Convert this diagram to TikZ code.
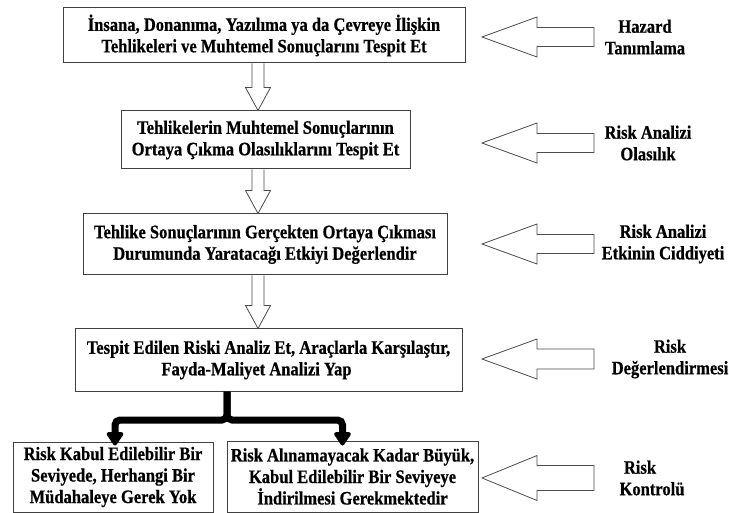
\documentclass[tikz,border=0pt]{standalone}
\usepackage{fontspec}
\setmainfont{Liberation Serif}
\newfontfamily\diagfont{Liberation Serif}[FakeStretch=0.87,FakeBold=0.6]
\usetikzlibrary{arrows.meta,calc}

% hollow block arrow pointing down: #1 = top point, #2 = tip point
\newcommand\blockdown[2]{%
  \draw[hollow] let \p1=#1, \p2=#2 in
    (\x1-6pt,\y1) -- (\x1-6pt,\y2+23pt) -- (\x1-12.5pt,\y2+23pt) --
    (\x2,\y2) -- (\x1+12.5pt,\y2+23pt) -- (\x1+6pt,\y2+23pt) --
    (\x1+6pt,\y1);}
% hollow block arrow pointing left: #1 = tail, #2 = tip, #3 = shaft half height, #4 = head half height
\newcommand\blockleft[4]{%
  \draw[hollow] let \p1=#1, \p2=#2 in
    (\x1,\y1+#3) -- (\x2+55pt,\y1+#3) -- (\x2+55pt,\y1+#4) --
    (\x2,\y2) -- (\x2+55pt,\y1-#4) -- (\x2+55pt,\y1-#3) --
    (\x1,\y1-#3) -- cycle;}

\begin{document}
\begin{tikzpicture}[x=1pt,y=-1pt,
  txt/.style={font=\diagfont\fontsize{19}{21.5}\selectfont\bfseries},
  stepbox/.style={txt, draw=black!75, line width=1pt, fill=white,
    inner sep=0pt, align=center},
  tag/.style={txt, align=center, inner sep=0pt},
  hollow/.style={draw=black!70, line width=0.8pt, fill=white, line join=miter},
  branch/.style={line width=7pt, rounded corners=5pt,
    -{Triangle[width=19pt,length=15pt,round]}}]
\useasboundingbox (0,0) rectangle (729,513);

% process steps
\node[stepbox, minimum width=402pt, minimum height=55pt] (b1) at (264,35.5)
  {İnsana, Donanıma, Yazılıma ya da Çevreye İlişkin\\Tehlikeleri ve Muhtemel Sonuçlarını Tespit Et};
\node[stepbox, minimum width=289pt, minimum height=58pt] (b2) at (265.5,140)
  {Tehlikelerin Muhtemel Sonuçlarının\\Ortaya Çıkma Olasılıklarını Tespit Et};
\node[stepbox, minimum width=364pt, minimum height=61pt] (b3) at (265,244.5)
  {Tehlike Sonuçlarının Gerçekten Ortaya Çıkması\\Durumunda Yaratacağı Etkiyi Değerlendir};
\node[stepbox, minimum width=387pt, minimum height=62pt] (b4) at (268.5,360)
  {Tespit Edilen Riski Analiz Et, Araçlarla Karşılaştır,\\Fayda-Maliyet Analizi Yap\hspace*{24pt}};
\node[stepbox, minimum width=200pt, minimum height=70pt] (b5) at (113,477)
  {Risk Kabul Edilebilir Bir\\Seviyede, Herhangi Bir\\Müdahaleye Gerek Yok};
\node[stepbox, minimum width=251pt, minimum height=71pt] (b6) at (352.5,476.5)
  {Risk Alınamayacak Kadar Büyük,\\Kabul Edilebilir Bir Seviyeye\\İndirilmesi Gerekmektedir};

% phase labels
\node[tag] (l1) at (645,37) {Hazard\\Tanımlama};
\node[tag] (l2) at (648,143) {Risk Analizi\\Olasılık};
\node[tag] (l3) at (663,244) {Risk Analizi\\Etkinin Ciddiyeti};
\node[tag] (l4) at (670,359) {Risk\\Değerlendirmesi};
\node[tag] (l5) at (652,478) {Risk\hspace*{24pt}\\Kontrolü};

% guide columns
\coordinate (ax) at (258,0);
\coordinate (tipx) at (482,0);
\coordinate (tailx) at (594,0);
\coordinate (split) at (227,420);

% flow between steps
\blockdown{(ax |- b1.south)}{(ax |- b2.north)}
\blockdown{(ax |- b2.south)}{(ax |- b3.north)}
\blockdown{(ax |- b3.south)}{(ax |- b4.north)}

% phase arrows
\blockleft{(tailx |- l1)}{(tipx |- l1)}{9.5pt}{20pt}
\blockleft{(tailx |- l2)}{(tipx |- l2)}{9.5pt}{20pt}
\blockleft{(tailx |- l3)}{(tipx |- l3)}{9.5pt}{20pt}
\blockleft{(tailx |- l4)}{(tipx |- l4)}{10pt}{20pt}
\blockleft{(tailx |- l5)}{(tipx |- l5)}{12.5pt}{22.5pt}

% decision branches
\draw[branch] (split |- b4.south) -- (split) -| ([xshift=2pt,yshift=-4pt]b5.north);
\draw[branch] (split |- b4.south) -- (split) -| ([xshift=-10pt,yshift=-5pt]b6.north);
\end{tikzpicture}
\end{document}
